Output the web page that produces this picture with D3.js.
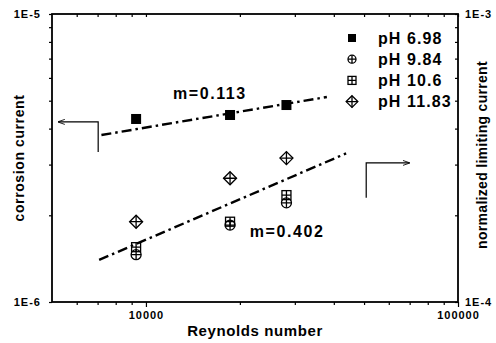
<!DOCTYPE html>
<html>
<head>
<meta charset="utf-8">
<script src="https://cdn.jsdelivr.net/npm/d3@7"></script>
<style>
  html, body { margin: 0; padding: 0; background: #fff; }
  svg { display: block; font-family: "Liberation Sans", Arial, sans-serif; }
</style>
</head>
<body>
<div id="chart"></div>
<script>
// Reynolds number of the three runs
const reynolds = [9300, 18600, 28200];

// corrosion current (A) per pH
const ph698 = [4.32e-6, 4.46e-6, 4.83e-6];
const ph984 = [1.46e-6, 1.85e-6, 2.21e-6];
const ph106 = [1.55e-6, 1.90e-6, 2.35e-6];
const ph1183 = [1.90e-6, 2.69e-6, 3.16e-6];

const seriesNames = ['pH 6.98', 'pH 9.84', 'pH 10.6', 'pH 11.83'];
const seriesMarks = ['square', 'circlePlus', 'squareGrid', 'diamondPlus'];

// fitted lines, end points [Re, current]
const fitTop = [[7200, 3.80e-6], [38000, 5.15e-6]];
const fitBottom = [[7080, 1.40e-6], [43800, 3.28e-6]];
const fitLabels = ['m=0.113', 'm=0.402'];
const fitLabelPos = [[12200, 5.07e-6], [21500, 1.68e-6]];

// axis-pointer arrows [Re, current]
const arrowLeft = [[7030, 3.32e-6], [7030, 4.22e-6], [5240, 4.22e-6]];
const arrowRight = [[50800, 2.30e-6], [50800, 3.04e-6], [69800, 3.04e-6]];

// ticks
const xMinor = [6000, 7000, 8000, 9000, 20000, 30000, 40000, 50000, 60000, 70000, 80000, 90000];
const xMajor = [10000, 100000];
const xTickLabels = { 10000: '10000', 100000: '100000' };
const yTicks = [1e-6, 2e-6, 3e-6, 4e-6, 5e-6, 6e-6, 7e-6, 8e-6, 9e-6, 1e-5];
const yLeftLabels = { 1e-6: '1E-6', 1e-5: '1E-5' };
const yRightLabels = { 1e-6: '1E-4', 1e-5: '1E-3' };

const width = 496, height = 343;
const margin = { top: 14, right: 38, bottom: 41, left: 52 };
const innerW = width - margin.left - margin.right;
const innerH = height - margin.top - margin.bottom;

const svg = d3.select('#chart').append('svg')
  .attr('width', width)
  .attr('height', height);

const g = svg.append('g').attr('transform', `translate(${margin.left},${margin.top})`);

const x = d3.scaleLog().domain([5000, 100000]).range([0, innerW]);
const y = d3.scaleLog().domain([1e-6, 1e-5]).range([innerH, 0]);

const xTicksAll = xMinor.concat(xMajor).sort((a, b) => a - b);

// bottom axis (ticks out)
const axBottom = g.append('g')
  .attr('transform', `translate(0,${innerH})`)
  .call(d3.axisBottom(x).tickValues(xTicksAll).tickSize(3).tickPadding(6)
    .tickFormat(d => xTickLabels[d] || ''));
axBottom.selectAll('.tick line').attr('y2', d => xMajor.includes(d) ? 5 : 3);

// top axis (ticks in)
const axTop = g.append('g')
  .call(d3.axisBottom(x).tickValues(xTicksAll).tickSize(3).tickFormat(''));

// left axis (ticks out)
const axLeft = g.append('g')
  .call(d3.axisLeft(y).tickValues(yTicks).tickSize(3).tickPadding(8)
    .tickFormat(d => yLeftLabels[d] || ''));

// right axis (ticks in)
const axRight = g.append('g')
  .attr('transform', `translate(${innerW},0)`)
  .call(d3.axisRight(y).tickValues(yTicks).tickSize(0).tickPadding(7)
    .tickFormat(d => yRightLabels[d] || ''));
axRight.selectAll('.tick line').attr('x2', -3);

[axBottom, axTop, axLeft, axRight].forEach(a => {
  a.select('.domain').remove();
  a.selectAll('.tick line').attr('stroke', '#000').attr('stroke-width', 1.2);
  a.selectAll('text')
    .attr('fill', '#000')
    .style('font-size', '11px')
    .style('font-weight', 'bold')
    .style('letter-spacing', '1px');
});

// frame
g.append('rect')
  .attr('x', 0).attr('y', 0)
  .attr('width', innerW).attr('height', innerH)
  .attr('fill', 'none')
  .attr('stroke', '#000')
  .attr('stroke-width', 1.8);

// fit lines
const line = d3.line().x(d => x(d[0])).y(d => y(d[1]));
[fitTop, fitBottom].forEach(f => {
  g.append('path')
    .attr('d', line(f))
    .attr('fill', 'none')
    .attr('stroke', '#000')
    .attr('stroke-width', 2.4)
    .attr('stroke-dasharray', '10,4,2.5,4');
});

fitLabels.forEach((t, i) => {
  g.append('text')
    .attr('x', x(fitLabelPos[i][0]))
    .attr('y', y(fitLabelPos[i][1]))
    .text(t)
    .style('font-size', '16px')
    .style('font-weight', 'bold')
    .style('letter-spacing', '1.6px')
    .attr('fill', '#000');
});

// arrows
svg.append('defs').append('marker')
  .attr('id', 'head')
  .attr('viewBox', '0 0 10 10')
  .attr('refX', 9).attr('refY', 5)
  .attr('markerWidth', 6).attr('markerHeight', 6)
  .attr('orient', 'auto')
  .append('path')
  .attr('d', 'M0,1.5 L10,5 L0,8.5')
  .attr('fill', 'none')
  .attr('stroke', '#000')
  .attr('stroke-width', 1.2);

[arrowLeft, arrowRight].forEach(a => {
  g.append('path')
    .attr('d', line(a))
    .attr('fill', 'none')
    .attr('stroke', '#000')
    .attr('stroke-width', 1.2)
    .attr('marker-end', 'url(#head)');
});

// marker glyphs
function drawMark(sel, type, cx, cy, s) {
  const k = sel.append('g').attr('transform', `translate(${cx},${cy})`);
  const st = { stroke: '#000', 'stroke-width': 1.3, fill: 'none' };
  const apply = el => { Object.entries(st).forEach(([a, v]) => el.attr(a, v)); return el; };
  if (type === 'square') {
    k.append('rect').attr('x', -s / 2).attr('y', -s / 2).attr('width', s).attr('height', s).attr('fill', '#000');
  } else if (type === 'circlePlus') {
    apply(k.append('circle').attr('r', s / 2));
    apply(k.append('path').attr('d', `M${-s / 2},0H${s / 2}M0,${-s / 2}V${s / 2}`));
  } else if (type === 'squareGrid') {
    apply(k.append('rect').attr('x', -s / 2).attr('y', -s / 2).attr('width', s).attr('height', s));
    apply(k.append('path').attr('d', `M${-s / 2},0H${s / 2}M0,${-s / 2}V${s / 2}`));
  } else {
    const h = s * 0.65;
    apply(k.append('path').attr('d', `M0,${-h}L${h},0L0,${h}L${-h},0Z`));
    apply(k.append('path').attr('d', `M${-h},0H${h}M0,${-h}V${h}`));
  }
}

const allSeries = [ph698, ph984, ph106, ph1183];
const markSize = [10, 10, 9, 10];
allSeries.forEach((vals, si) => {
  vals.forEach((v, i) => drawMark(g, seriesMarks[si], x(reynolds[i]), y(v), markSize[si]));
});

// legend
const legend = svg.append('g').attr('transform', 'translate(352,38)');
seriesNames.forEach((name, i) => {
  const row = legend.append('g').attr('transform', `translate(0,${i * 21.2})`);
  drawMark(row, seriesMarks[i], 0, 0, i === 3 ? 9 : 8);
  row.append('text')
    .attr('x', 26).attr('y', 5.5)
    .text(name)
    .style('font-size', '16px')
    .style('font-weight', 'bold')
    .style('letter-spacing', '1.1px')
    .attr('fill', '#000');
});

// axis titles
svg.append('text')
  .attr('x', margin.left + innerW / 2)
  .attr('y', 336)
  .attr('text-anchor', 'middle')
  .text('Reynolds number')
  .style('font-size', '15px')
  .style('font-weight', 'bold')
  .style('letter-spacing', '0.6px');

svg.append('text')
  .attr('transform', `translate(24,${margin.top + innerH / 2}) rotate(-90)`)
  .attr('text-anchor', 'middle')
  .text('corrosion current')
  .style('font-size', '14px')
  .style('font-weight', 'bold')
  .style('letter-spacing', '0.6px');

svg.append('text')
  .attr('transform', `translate(487,155) rotate(-90)`)
  .attr('text-anchor', 'middle')
  .text('normalized limiting current')
  .style('font-size', '14px')
  .style('font-weight', 'bold')
  .style('letter-spacing', '0.3px');
</script>
</body>
</html>
